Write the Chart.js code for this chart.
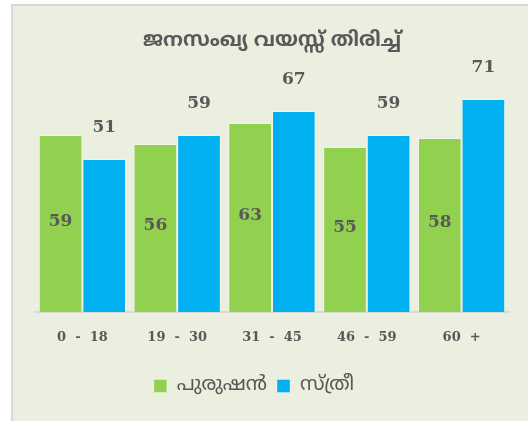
<!DOCTYPE html>
<html>
<head>
<meta charset="utf-8">
<script src="https://cdn.jsdelivr.net/npm/chart.js@4.4.1/dist/chart.umd.min.js"></script>
<style>
  html, body { margin: 0; padding: 0; background: #ffffff; overflow: hidden; }
  #frame {
    position: absolute; left: 11px; top: 4px;
    width: 515px; height: 415px;
    background: #ebefdf;
    border: 2px solid #d9d9d9;
  }
  canvas { display: block; }
</style>
</head>
<body>
<div id="frame"><canvas id="chart" width="515" height="415"></canvas></div>
<script>
const categories = ['0  -  18', '19  -  30', '31  -  45', '46  -  59', '60  +'];
const menValues = [59, 56, 63, 55, 58];
const womenValues = [51, 59, 67, 59, 71];
const seriesNames = ['പുരുഷൻ', 'സ്ത്രീ'];
const titleText = 'ജനസംഖ്യ വയസ്സ് തിരിച്ച്';

const textColor = '#595959';
const mlFont = '"Noto Sans Malayalam", "Noto Sans", sans-serif';
const numFont = '"DejaVu Serif", "Liberation Serif", serif';

// draws the value labels: green ones in the middle, blue ones above the bar
const valueLabels = {
    id: 'valueLabels',
    afterDatasetsDraw(chart) {
        const ctx = chart.ctx;
        ctx.save();
        ctx.fillStyle = textColor;
        ctx.font = 'bold 17px ' + numFont;
        ctx.textAlign = 'center';
        ctx.textBaseline = 'middle';
        chart.data.datasets.forEach((ds, i) => {
            chart.getDatasetMeta(i).data.forEach((bar, j) => {
                const y = i === 0 ? (bar.y + bar.base) / 2 - 2 : bar.y - 31;
                ctx.fillText(ds.data[j], bar.x, y);
            });
        });
        ctx.restore();
    }
};

// legend sits a bit left of centre in the original
const legendShift = {
    id: 'legendShift',
    afterLayout(chart) {
        chart.legend.left -= 18;
        chart.legend.right -= 18;
    }
};

new Chart(document.getElementById('chart'), {
    type: 'bar',
    data: {
        labels: categories,
        datasets: [
            { label: seriesNames[0], data: menValues, backgroundColor: '#92d050',
              borderColor: 'rgba(255,255,255,0.35)', borderWidth: 1 },
            { label: seriesNames[1], data: womenValues, backgroundColor: '#00b0f0',
              borderColor: 'rgba(255,255,255,0.35)', borderWidth: 1 }
        ]
    },
    options: {
        responsive: false,
        animation: false,
        layout: { padding: { left: 22, right: 19, top: 0, bottom: 15 } },
        datasets: { bar: { categoryPercentage: 0.92, barPercentage: 1.0 } },
        scales: {
            x: {
                grid: { display: false },
                border: { color: '#d9d9d9', width: 2 },
                ticks: { color: textColor, font: { family: numFont, size: 13, weight: 'bold' }, padding: 10 },
                afterFit(scale) { scale.height = 54; }
            },
            y: { display: false, min: 0, max: 80 }
        },
        plugins: {
            title: {
                display: true,
                text: titleText,
                color: textColor,
                font: { family: mlFont, size: 20, weight: 'bold' },
                padding: { top: 24, bottom: 18 }
            },
            legend: {
                position: 'bottom',
                labels: {
                    color: textColor,
                    font: { family: mlFont, size: 20 },
                    boxWidth: 13, boxHeight: 13,
                    padding: 10
                }
            },
            tooltip: { enabled: false }
        }
    },
    plugins: [valueLabels, legendShift]
});
</script>
</body>
</html>
